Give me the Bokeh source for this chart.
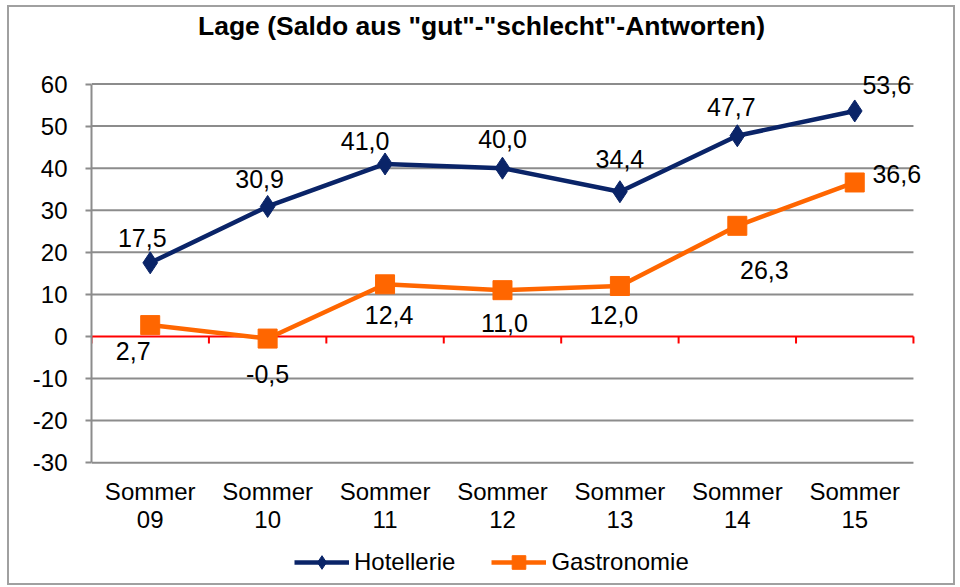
from bokeh.plotting import figure
from bokeh.models import (ColumnDataSource, FixedTicker, Legend, LegendItem, Range1d, Label,
                          CDSView, IndexFilter)
from bokeh.embed import file_html
from bokeh.resources import INLINE

# ---- data ----
title_text = 'Lage (Saldo aus "gut"-"schlecht"-Antworten)'
categories = ["Sommer\n09", "Sommer\n10", "Sommer\n11", "Sommer\n12", "Sommer\n13", "Sommer\n14", "Sommer\n15"]
hotellerie = [17.5, 30.9, 41.0, 40.0, 34.4, 47.7, 53.6]
gastronomie = [2.7, -0.5, 12.4, 11.0, 12.0, 26.3, 36.6]
y_ticks = [-30, -20, -10, 0, 10, 20, 30, 40, 50, 60]
y_tick_labels = ["-30", "-20", "-10", "0", "10", "20", "30", "40", "50", "60"]

# label placement (pixels, screen y downward)
hot_dx = [-8, -8, -20, 0, 0, -6, 32]
hot_dy = [-25, -27, -23, -29, -33, -29, -26]
gas_dx = [-17, 0, 4, 2, -6, 27, 42]
gas_dy = [26, 35, 31, 33, 29, 44, -8]

NAVY = "#0A2468"
ORANGE = "#FF6600"
GRID = "#8C8C8C"
FONT = "Liberation Sans"

Y_MIN, Y_MAX = -30, 60
PX_PER_UNIT = 4.2           # vertical scale of the plot area
FRAME_TOP_PAD = 74.4        # px between frame top and the 60 line (title area)
FRAME_BOTTOM_PAD = 122.6    # px between the -30 line and frame bottom (labels + legend)
RIGHT_PAD = 0.324           # extra category units right of the plot area (for labels)

xs = list(range(1, len(categories) + 1))
x_lo, x_hi = 0.5, len(categories) + 0.5

def fmt(v):
    return ("%.1f" % v).replace(".", ",")

p = figure(width=948, height=580, output_backend="svg", toolbar_location=None,
           x_range=Range1d(x_lo, x_hi + RIGHT_PAD),
           y_range=Range1d(Y_MIN - FRAME_BOTTOM_PAD / PX_PER_UNIT, Y_MAX + FRAME_TOP_PAD / PX_PER_UNIT),
           min_border_left=82, min_border_right=6, min_border_top=2, min_border_bottom=2)
p.styles = {"border": "2px solid #A0A0A0", "margin-left": "7px", "margin-top": "5px"}
p.outline_line_color = None
p.background_fill_color = "white"
p.border_fill_color = "white"
p.xaxis.visible = False
p.xgrid.visible = False
p.ygrid.visible = False

# title
p.add_layout(Label(x=(len(categories) + 1) / 2, y=Y_MAX, y_offset=58, x_offset=-21,
                   text=title_text, text_align="center", text_baseline="middle",
                   text_font=FONT, text_font_size="26.5px", text_font_style="bold",
                   text_color="black"))

# horizontal gridlines limited to the plot area
grid_y = [t for t in y_ticks if t != 0]
p.segment(x0=[x_lo] * len(grid_y), y0=grid_y, x1=[x_hi] * len(grid_y), y1=grid_y,
          line_color=GRID, line_width=2)

# y axis
ya = p.yaxis[0]
ya.ticker = FixedTicker(ticks=y_ticks)
ya.bounds = (Y_MIN, Y_MAX)
ya.major_label_overrides = {t: l for t, l in zip(y_ticks, y_tick_labels)}
ya.axis_line_color = GRID
ya.axis_line_width = 2
ya.major_tick_line_color = GRID
ya.major_tick_line_width = 2
ya.major_tick_out = 6
ya.major_tick_in = 0
ya.minor_tick_line_color = None
ya.major_label_text_font = FONT
ya.major_label_text_font_size = "24px"
ya.major_label_text_color = "black"
ya.major_label_standoff = 18

# category labels under the plot area
line1 = [c.split("\n")[0] for c in categories]
line2 = [c.split("\n")[1] for c in categories]
src_c = ColumnDataSource(dict(x=xs, y=[Y_MIN] * len(xs), a=line1, b=line2))
p.text("x", "y", text="a", source=src_c, y_offset=29, text_align="center", text_baseline="middle",
       text_font_size="24px", text_color="black", text_font={"value": FONT})
p.text("x", "y", text="b", source=src_c, y_offset=57, text_align="center", text_baseline="middle",
       text_font_size="24px", text_color="black", text_font={"value": FONT})

# zero line (red category axis) with tick marks at category boundaries
p.segment(x0=[x_lo], y0=[0], x1=[x_hi], y1=[0], line_color="#FF0000", line_width=2)
bounds = [x - 0.5 for x in xs] + [xs[-1] + 0.5]
p.segment(x0=bounds, y0=[0] * len(bounds), x1=bounds, y1=[-7 / PX_PER_UNIT] * len(bounds),
          line_color="#FF0000", line_width=2)

# series sources
src_h = ColumnDataSource(dict(x=xs, y=hotellerie, t=[fmt(v) for v in hotellerie], dx=hot_dx, dy=hot_dy))
src_g = ColumnDataSource(dict(x=xs, y=gastronomie, t=[fmt(v) for v in gastronomie], dx=gas_dx, dy=gas_dy))

# legend renderers: a single point each (hidden beneath the real markers), smaller legend markers
def one():
    return CDSView(filter=IndexFilter(indices=[0]))

lh = p.line("x", "y", source=src_h, view=one(), line_color=NAVY, line_width=4.5)
mh = p.scatter("x", "y", source=src_h, view=one(), marker="diamond", size=16,
               fill_color=NAVY, line_color=NAVY)
lg = p.line("x", "y", source=src_g, view=one(), line_color=ORANGE, line_width=4.5)
mg = p.scatter("x", "y", source=src_g, view=one(), marker="square", size=14,
               fill_color=ORANGE, line_color=ORANGE)

# series
p.line("x", "y", source=src_h, line_color=NAVY, line_width=4.5)
p.scatter("x", "y", source=src_h, marker="diamond", size=22, fill_color=NAVY, line_color=NAVY)
p.line("x", "y", source=src_g, line_color=ORANGE, line_width=4.5)
p.scatter("x", "y", source=src_g, marker="square", size=19, fill_color=ORANGE, line_color=ORANGE)

for src in (src_h, src_g):
    p.text("x", "y", text="t", source=src, x_offset="dx", y_offset="dy",
           text_align="center", text_baseline="middle", text_font_size="25px",
           text_color="black", text_font={"value": FONT})

legend = Legend(items=[LegendItem(label="Hotellerie", renderers=[lh, mh]),
                       LegendItem(label="Gastronomie", renderers=[lg, mg])],
                orientation="horizontal", location=(203, 6),
                glyph_width=55, glyph_height=34, label_standoff=5, spacing=36,
                padding=0, margin=0, border_line_color=None, background_fill_alpha=0,
                label_text_font=FONT, label_text_font_size="24px", label_text_color="black")
p.add_layout(legend, "center")

open("out.html", "w").write(file_html(p, INLINE))
